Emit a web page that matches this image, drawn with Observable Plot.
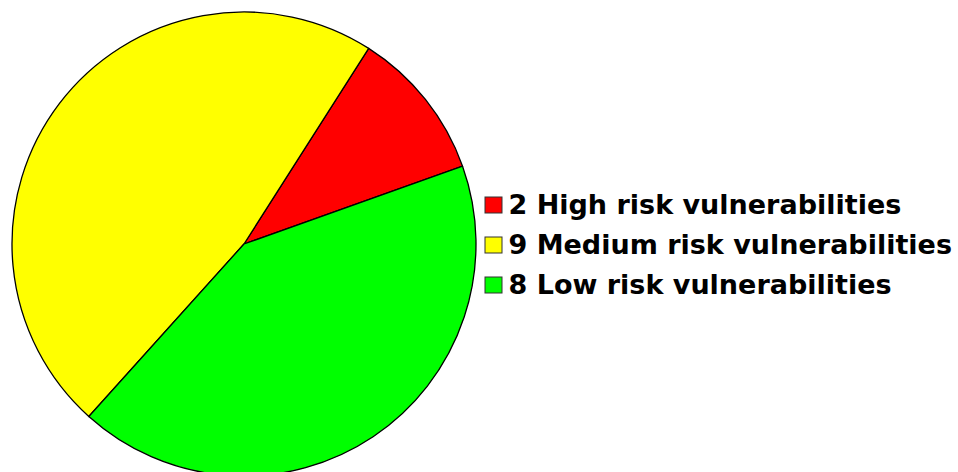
<!DOCTYPE html>
<html><head><meta charset="utf-8">
<script src="https://cdn.jsdelivr.net/npm/d3@7"></script>
<script src="https://cdn.jsdelivr.net/npm/@observablehq/plot@0.6"></script>
<style>html,body{margin:0;padding:0;background:#fff}</style>
</head><body><div id="chart"></div>
<script>
// Data
const categories = ["High risk vulnerabilities", "Medium risk vulnerabilities", "Low risk vulnerabilities"];
const counts = [2, 9, 8];
const colors = ["#ff0000", "#ffff00", "#00ff00"];

// Layout (pixel-like coordinate system)
const W = 958, H = 472;
const cx = 244, cy = 244, R = 232;
const startDeg = 70.4;

const arcs = d3.pie().sort(null)
  .startAngle(startDeg * Math.PI / 180)
  .endAngle(startDeg * Math.PI / 180 - 2 * Math.PI)(counts);

const legend = categories.map((c, i) => ({
  label: `${counts[i]} ${c}`,
  color: colors[i],
  row: i
}));
const rowY = d => 205 + 40 * d.row;

const pieMark = (index, scales) => {
  const g = d3.create("svg:g");
  const x0 = scales.x(cx), y0 = scales.y(cy);
  const rr = scales.x(cx + R) - x0;
  const arc = d3.arc().innerRadius(0).outerRadius(rr);
  g.attr("transform", `translate(${x0},${y0})`)
    .selectAll("path").data(arcs).join("path")
    .attr("d", arc)
    .attr("fill", (d, i) => colors[i])
    .attr("stroke", "#000")
    .attr("stroke-width", 1.3)
    .attr("stroke-linejoin", "round");
  return g.node();
};

const chart = Plot.plot({
  width: W, height: H,
  margin: 0,
  x: {domain: [0, W], range: [0, W], axis: null},
  y: {domain: [0, H], range: [0, H], axis: null},
  style: {background: "#fff"},
  marks: [
    pieMark,
    Plot.rect(legend, {
      x1: () => 485, x2: () => 502,
      y1: d => rowY(d) - 8, y2: d => rowY(d) + 8,
      fill: d => d.color, stroke: "#333", strokeWidth: 1
    }),
    Plot.text(legend, {
      x: () => 508, y: rowY, text: "label",
      textAnchor: "start", lineAnchor: "middle",
      fill: "#000", fontSize: 27, fontWeight: "bold",
      fontFamily: "DejaVu Sans"
    })
  ]
});
document.getElementById("chart").appendChild(chart);
</script>
</body></html>
